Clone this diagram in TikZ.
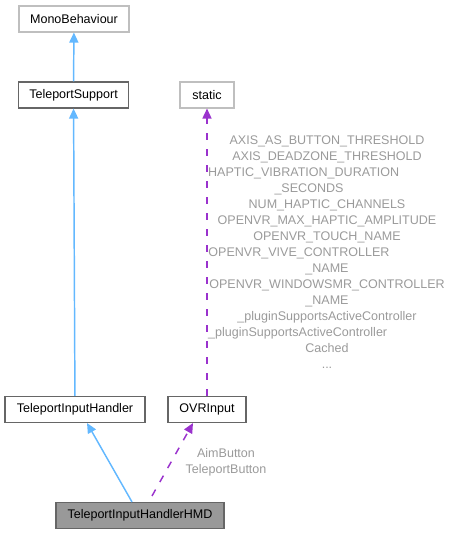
\documentclass[tikz,border=0pt]{standalone}
\usepackage{fontspec}
\setmainfont{Liberation Sans}
\usetikzlibrary{positioning, arrows.meta}
\definecolor{inherit}{HTML}{63B8FF}
\definecolor{usage}{HTML}{9A32CD}
\definecolor{edgegrey}{HTML}{9A9A9A}
\definecolor{lightframe}{HTML}{BFBFBF}
\definecolor{darkframe}{HTML}{666666}
\tikzstyle{every node}=[font=\fontsize{9.4}{12}\selectfont]
\tikzstyle{block}=[draw=lightframe,fill=white,rectangle,line width=0.8pt,minimum height=19.5pt,inner sep=0pt]
\tikzstyle{known}=[block,draw=darkframe]
\tikzstyle{current}=[block,draw=darkframe,fill=black!40]
\tikzstyle{edgetext}=[text=edgegrey,align=center,inner sep=0pt]
\tikzstyle{base}=[->,inherit,line width=1.1pt]
\tikzstyle{used}=[->,usage,line width=1.1pt,dash pattern=on 5.5pt off 6.5pt]
\newcommand{\padright}[1]{\rule{#1}{0pt}}

\begin{document}
\begin{tikzpicture}[x=0.75pt,y=-0.75pt,>={Triangle[length=7.5pt,width=6.75pt]}]
            \useasboundingbox (0,0) rectangle (453,535);
            \node[block, minimum width=82.5pt] (mono) at (74,19) {MonoBehaviour};
            \node[known, minimum width=82pt] (support) at (73.5,95) {TeleportSupport};
            \node[block, minimum width=40.5pt] (static) at (207,95) {static};
            \node[known, minimum width=105pt] (handler) at (75,409.5) {TeleportInputHandler};
            \node[known, minimum width=58.5pt] (ovr) at (207,409.5) {OVRInput};
            \node[current, minimum width=126pt] (hmd) at (140,515.5) {TeleportInputHandlerHMD};
            \draw[base] (support) -- (mono);
            \draw[base] (handler) -- (support);
            \draw[base] (hmd.north -| 132,0) -- (handler.south -| 87,0);
            \draw[used] (ovr) -- (static);
            \draw[used] ([yshift=4.5pt]hmd.north -| 152,0) -- (ovr.south -| 193,0);
            % field names on the static link
            \node[edgetext] (fields) at (327,252) {AXIS\_AS\_BUTTON\_THRESHOLD\\
                AXIS\_DEADZONE\_THRESHOLD\\
                HAPTIC\_VIBRATION\_DURATION\padright{35pt}\\
                \_SECONDS\padright{27pt}\\
                NUM\_HAPTIC\_CHANNELS\\
                OPENVR\_MAX\_HAPTIC\_AMPLITUDE\\
                OPENVR\_TOUCH\_NAME\\
                OPENVR\_VIVE\_CONTROLLER\padright{42pt}\\
                \_NAME\\
                OPENVR\_WINDOWSMR\_CONTROLLER\\
                \_NAME\\
                \_pluginSupportsActiveController\\
                \_pluginSupportsActiveController\padright{44pt}\\
                Cached\\
                ...};
            \node[edgetext] (buttons) at (226,462) {AimButton\\TeleportButton};
        \end{tikzpicture}
\end{document}
